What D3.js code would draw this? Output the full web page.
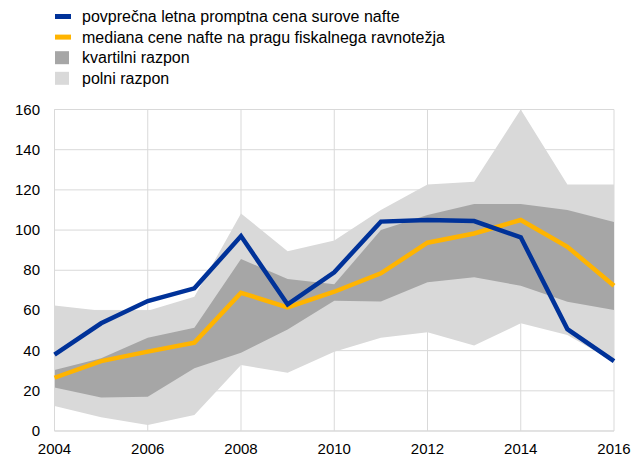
<!DOCTYPE html>
<html><head><meta charset="utf-8">
<script src="https://cdn.jsdelivr.net/npm/d3@7"></script>
<style>body{margin:0;background:#fff;} svg{display:block;font-family:"Liberation Sans",Arial,sans-serif;}</style>
</head><body>
<svg id="c" width="632" height="456"></svg>
<script>
const years = [2004,2005,2006,2007,2008,2009,2010,2011,2012,2013,2014,2015,2016];
const spotPrice   = [38, 53.6, 64.7, 71, 97, 63, 79, 104.2, 105, 104.5, 96.4, 50.7, 34.8];
const medianPrice = [26.5, 34.8, 39.5, 44, 68.8, 61.5, 69.3, 78.5, 93.7, 98.3, 105, 91.7, 72.3];
const quartileHigh = [30.3, 36.2, 46.4, 51.4, 85.6, 75.6, 73, 100, 107.5, 113, 113, 110, 104];
const quartileLow  = [21.7, 16.7, 17, 31.2, 39, 50.5, 64.8, 64.4, 74, 76.5, 72.3, 64.3, 60.2];
const fullHigh = [62.4, 59.9, 59.9, 66.8, 108.3, 89.4, 94.8, 110, 122.7, 124, 160, 122.7, 122.7];
const fullLow  = [12.4, 6.8, 3, 8, 32.8, 29, 39.5, 46.4, 49.1, 42.5, 53.6, 47.8, 34.5];
const yTicks = [0,20,40,60,80,100,120,140,160];
const xTicks = [2004,2006,2008,2010,2012,2014,2016];
const legendLabels = ["povprečna letna promptna cena surove nafte","mediana cene nafte na pragu fiskalnega ravnotežja","kvartilni razpon","polni razpon"];

const svg = d3.select("#c");
const x = d3.scaleLinear().domain([2004,2016]).range([54.5,614]);
const y = d3.scaleLinear().domain([0,160]).range([431,109.5]);
const grid = "#d9d9d9";

const g = svg.append("g");
g.selectAll(".hg").data(yTicks).enter().append("line")
  .attr("x1",x(2004)).attr("x2",x(2016)).attr("y1",d=>y(d)).attr("y2",d=>y(d))
  .attr("stroke",grid).attr("stroke-width",1);
g.selectAll(".vg").data(xTicks).enter().append("line")
  .attr("x1",d=>x(d)).attr("x2",d=>x(d)).attr("y1",y(0)).attr("y2",y(160))
  .attr("stroke",grid).attr("stroke-width",1);

const idx = d3.range(years.length);
const areaF = (hi,lo)=>d3.area().x(i=>x(years[i])).y0(i=>y(lo[i])).y1(i=>y(hi[i]));
g.append("path").datum(idx).attr("d",areaF(fullHigh,fullLow)).attr("fill","#d9d9d9");
g.append("path").datum(idx).attr("d",areaF(quartileHigh,quartileLow)).attr("fill","#a6a6a6");

g.append("line").attr("x1",x(2004)).attr("x2",x(2016)).attr("y1",y(0)).attr("y2",y(0)).attr("stroke","#d9d9d9");
g.append("line").attr("x1",x(2004)).attr("x2",x(2004)).attr("y1",y(0)).attr("y2",y(160)).attr("stroke","#d9d9d9");

const lineF = arr=>d3.line().x(i=>x(years[i])).y(i=>y(arr[i]));
g.append("path").datum(idx).attr("d",lineF(medianPrice)).attr("fill","none").attr("stroke","#ffb400").attr("stroke-width",4.5).attr("stroke-linejoin","miter");
g.append("path").datum(idx).attr("d",lineF(spotPrice)).attr("fill","none").attr("stroke","#003299").attr("stroke-width",4.5).attr("stroke-linejoin","miter");

g.selectAll(".yl").data(yTicks).enter().append("text")
  .attr("x",40).attr("y",d=>y(d)+5).attr("text-anchor","end")
  .attr("font-size",15).attr("fill","#000").text(d=>d);
g.selectAll(".xl").data(xTicks).enter().append("text")
  .attr("x",d=>x(d)).attr("y",454).attr("text-anchor","middle")
  .attr("font-size",15).attr("fill","#000").text(d=>d);

const legColors = ["#003299","#ffb400","#a6a6a6","#d9d9d9"];
const lg = svg.append("g");
legendLabels.forEach((t,i)=>{
  const cy = 16.5 + i*20.6;
  if(i<2){
    lg.append("rect").attr("x",55).attr("y",cy-2.5).attr("width",16).attr("height",5).attr("fill",legColors[i]);
  } else {
    lg.append("rect").attr("x",55).attr("y",cy-6.5).attr("width",14).attr("height",13).attr("fill",legColors[i]);
  }
  lg.append("text").attr("x",82).attr("y",cy+5.5).attr("font-size",16).attr("fill","#000").text(t);
});
</script>
</body></html>
